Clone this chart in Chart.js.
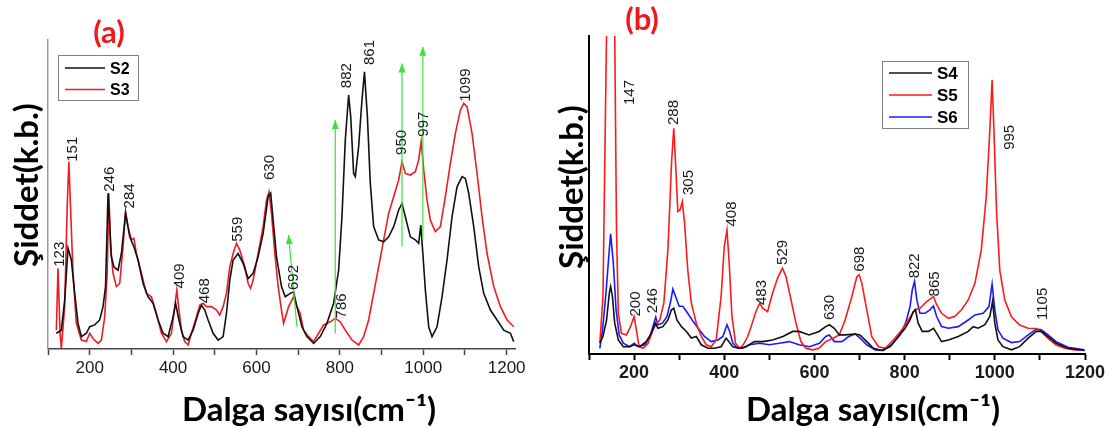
<!DOCTYPE html>
<html>
<head>
<meta charset="utf-8">
<script src="https://cdn.jsdelivr.net/npm/chart.js@4.4.1/dist/chart.umd.min.js"></script>
<style>
body{margin:0;background:#fff;width:1115px;height:428px;overflow:hidden;position:relative}
#boxA{position:absolute;left:0;top:0;width:545px;height:428px}
#boxB{position:absolute;left:545px;top:0;width:570px;height:428px}
</style>
</head>
<body>
<div id="boxA"><canvas id="chartA"></canvas></div>
<div id="boxB"><canvas id="chartB"></canvas></div>
<script>
// (a) S2 / S3
var s2X = [120,132,140,148,156,164,172,180,192,200,212,224,232,238,244,252,258,268,276,286,296,306,316,328,340,352,364,376,388,400,406,414,424,436,448,460,468,476,484,496,508,520,528,536,544,556,568,580,592,604,616,628,634,640,648,660,669,681,689,697,709,721,737,753,769,785,797,805,813,821,826,833,837,845,853,859,866,873,881,893,905,917,929,941,949,957,969,981,989,994,999,1005,1013,1021,1033,1045,1057,1069,1081,1093,1101,1109,1121,1133,1145,1161,1177,1193,1209,1217];
var s2Y = [5.1,6.1,15.8,32.6,28.8,18.0,8.3,4.0,5.1,7.2,7.8,9.4,13.7,20.2,50.4,29.9,26.6,25.5,30.9,43.9,36.3,33.1,28.8,21.2,16.9,14.8,9.4,5.1,4.0,10.4,14.8,9.4,4.0,2.9,6.1,11.5,14.2,12.6,9.4,5.1,2.9,4.0,11.5,22.3,28.8,30.9,27.7,22.8,24.5,29.9,37.4,49.3,50.4,41.7,29.9,20.2,16.9,18.0,18.5,13.7,7.2,4.0,1.8,4.0,8.3,14.8,25.5,42.8,67.6,82.2,75.2,56.8,55.8,65.5,80.6,89.7,75.2,53.6,39.6,35.3,34.7,36.3,39.6,45.0,47.1,42.8,36.3,35.3,34.2,40.1,30.9,19.1,7.2,4.0,7.2,16.9,28.8,42.8,52.5,55.8,55.2,50.4,39.6,26.6,18.0,12.6,9.4,6.1,5.1,2.4];
var s3X = [120,124,129,132,140,146,150,154,160,168,180,192,200,208,220,228,236,242,246,250,256,264,272,280,286,292,300,306,312,324,336,348,360,372,384,396,404,409,414,420,428,436,444,456,464,472,480,492,504,512,520,528,536,544,552,560,572,580,586,592,604,616,624,630,636,644,652,660,665,677,689,697,705,713,725,737,749,761,777,789,801,813,829,845,857,869,881,893,905,917,929,941,949,957,969,981,989,995,1002,1009,1017,1029,1041,1053,1065,1077,1089,1097,1105,1117,1129,1141,1153,1169,1185,1201,1217];
var s3Y = [6.1,26.1,5.1,0.2,13.7,46,60.6,46,24.5,8.3,2.9,2.4,5.1,3.4,1.8,2.9,10.4,24.5,50.4,33.1,24.5,20.2,21.2,33.1,44.4,39.6,35.3,35.8,30.9,24.5,18.0,16.9,11.5,5.1,2.4,5.1,13.7,19.1,12.6,6.1,2.4,1.3,5.1,10.4,14.2,14.8,13.7,13.7,12.6,11.0,13.7,18.0,26.6,30.9,34.2,32.0,26.6,21.2,19.6,22.3,30.9,39.6,48.2,50.9,43.9,30.9,20.2,12.6,8.3,13.7,16.9,13.7,11.5,6.1,4.0,2.4,5.1,7.8,8.8,9.9,8.8,6.1,2.9,1.3,4.0,9.4,18.0,26.6,35.3,43.9,49.3,54.7,60.6,56.8,56.3,57.4,61.2,67.1,56.8,48.2,41.7,38.0,39.6,49.3,60.1,69.8,77.3,79.5,78.4,69.8,56.8,42.8,30.9,20.2,13.7,9.4,7.2];
var peaksA = [[128,26.6,'123'],[160,60.6,'151'],[248,50.9,'246'],[296,45.5,'284'],[416,19.6,'409'],[476,14.8,'468'],[556,34.7,'559'],[632,54.7,'630'],[689,19.1,'692'],[805,9.9,'786'],[816,84.4,'882'],[872,91.9,'861'],[949,62.8,'950'],[1001,68.7,'997'],[1101,80.0,'1099']];
var arrowsA = [[697,7.2,677,36.9],[789,5.1,789,74.1],[949,33.1,949,92.4],[999,35.3,999,97.8]];

// (b) S4 / S5 / S6
var s4X = [124,131,139,145,148,152,157,165,176,190,200,212,227,238,247,253,264,275,283,288,295,305,316,327,338,349,364,378,393,404,410,419,434,448,467,485,507,530,552,566,588,610,625,633,644,655,668,690,701,716,731,749,768,786,801,812,819,824,830,839,853,864,871,882,897,919,941,952,963,978,989,995,1000,1007,1018,1037,1055,1074,1092,1103,1118,1136,1162,1199];
var s4Y = [3.4,5.5,10.7,19.1,21.2,18.0,9.7,4.4,2.3,2.3,2.9,2.3,3.9,6.5,9.7,8.1,8.6,10.7,13.9,14.4,10.7,8.6,7.1,5.0,5.5,2.9,1.8,1.8,2.3,5.0,3.9,2.3,1.8,2.3,3.9,3.9,4.4,5.5,7.1,7.1,6.0,7.1,8.6,9.2,8.1,6.0,6.0,6.3,6.0,3.9,1.8,1.1,2.3,5.5,8.1,10.7,13.3,13.9,9.7,7.1,7.1,8.1,6.5,3.9,4.4,5.5,7.1,8.6,8.1,9.2,11.8,16.5,9.7,4.4,2.3,1.3,2.3,5.0,7.1,7.1,5.5,3.4,1.8,1.1];
var s5X = [124,131,139,148,157,161,165,172,183,192,200,205,211,220,231,242,248,257,266,275,283,288,292,297,302,307,312,319,327,338,349,360,371,382,393,400,406,411,417,425,434,442,452,462,470,479,485,496,507,518,529,537,548,559,570,581,596,610,625,640,655,668,683,694,699,705,716,727,742,757,775,794,808,823,834,849,864,871,882,897,911,926,941,956,970,981,989,994,998,1004,1011,1022,1037,1055,1074,1092,1103,1118,1136,1155,1177,1199];
var s5Y = [3.4,18.1,102,160,102,39.0,12.8,6.5,6.0,8.6,11.8,7.6,2.3,1.8,3.4,7.6,9.2,10.7,16.0,32.7,60.0,71.0,60.0,44.8,45.3,47.9,41.1,26.4,16.0,9.7,5.5,2.9,2.3,4.4,18.1,33.8,39.0,28.5,11.8,3.4,1.8,2.9,5.5,9.7,13.3,16.0,14.4,13.3,19.1,23.8,27.0,24.3,17.0,9.7,3.9,1.8,1.3,1.8,3.9,4.9,6.0,10.7,18.1,24.3,24.9,22.3,13.9,5.5,2.3,1.8,4.4,7.6,10.7,13.9,14.4,16.5,18.1,15.5,12.8,11.2,11.8,13.9,17.0,22.3,32.7,49.5,70.5,86.2,70.5,44.3,26.4,17.0,11.7,9.1,8.1,8.0,7.0,4.9,2.8,1.8,1.3,1.2];
var s6X = [124,130,137,145,148,154,160,167,176,190,200,209,224,235,244,248,253,263,273,281,286,292,300,308,319,331,342,356,371,386,397,406,412,419,430,441,456,478,500,522,544,566,589,611,625,633,644,661,676,690,701,716,735,753,771,790,802,812,817,822,827,834,845,856,864,871,882,897,919,941,956,974,987,994,1000,1007,1018,1037,1055,1074,1092,1103,1118,1136,1162,1199];
var s6Y = [1.8,7.6,18.1,32.7,37.8,28.5,13.9,6.0,3.4,2.3,3.4,2.3,2.9,5.5,9.7,11.6,9.2,9.7,11.8,16.5,20.4,18.1,15.0,15.0,12.8,10.2,8.1,5.5,3.9,4.4,5.5,9.2,7.1,3.4,1.8,1.8,2.9,3.4,2.9,3.4,3.9,2.9,2.3,3.4,5.5,6.0,3.9,3.9,5.5,6.3,5.0,2.9,1.3,1.1,2.9,6.0,9.7,14.9,20.2,22.8,17.0,12.8,12.8,13.9,15.1,11.8,8.6,8.1,8.6,10.7,12.3,12.8,14.9,22.0,13.9,7.6,5.0,3.6,3.9,6.0,7.8,7.6,6.0,3.9,2.1,1.3];
var peaksB = [[190,78.3,'147'],[204,11.8,'200'],[241,12.8,'246'],[288,72,'288'],[322,50,'305'],[417,40.1,'408'],[484,15.4,'483'],[530,28,'529'],[634,10.7,'630'],[701,25.9,'698'],[822,23.8,'822'],[867,18.1,'865'],[1033,64.2,'995'],[1107,10.7,'1105']];

var yTitle = 'Şiddet(k.b.)';
var xTitle = 'Dalga sayısı(cm⁻¹)';

function pts(xs, ys) {
    var out = [];
    for (var i = 0; i < xs.length; i++) out.push({x: xs[i], y: ys[i]});
    return out;
}

function line(label, xs, ys, color) {
    return {label: label, data: pts(xs, ys), borderColor: color, backgroundColor: color,
            borderWidth: 1.6, pointRadius: 0, tension: 0, fill: false};
}

function decor(cfg) {
    return {
        id: 'decor',
        afterDraw: function (chart) {
            var ctx = chart.ctx, xs = chart.scales.x, ys = chart.scales.y;
            ctx.save();
            // arrows
            ctx.strokeStyle = '#3ee03e';
            ctx.fillStyle = '#3ee03e';
            ctx.lineWidth = 1.2;
            (cfg.arrows || []).forEach(function (a) {
                var x0 = xs.getPixelForValue(a[0]), y0 = ys.getPixelForValue(a[1]);
                var x1 = xs.getPixelForValue(a[2]), y1 = ys.getPixelForValue(a[3]);
                var ang = Math.atan2(y1 - y0, x1 - x0);
                ctx.beginPath(); ctx.moveTo(x0, y0); ctx.lineTo(x1, y1); ctx.stroke();
                ctx.beginPath();
                ctx.moveTo(x1, y1);
                ctx.lineTo(x1 - 9 * Math.cos(ang) + 3.5 * Math.sin(ang), y1 - 9 * Math.sin(ang) - 3.5 * Math.cos(ang));
                ctx.lineTo(x1 - 9 * Math.cos(ang) - 3.5 * Math.sin(ang), y1 - 9 * Math.sin(ang) + 3.5 * Math.cos(ang));
                ctx.closePath(); ctx.fill();
            });
            // peak labels
            ctx.fillStyle = '#1a1a1a';
            ctx.font = '15px "Liberation Sans", Arial, sans-serif';
            ctx.textAlign = 'left';
            ctx.textBaseline = 'middle';
            cfg.peaks.forEach(function (p) {
                ctx.save();
                ctx.translate(xs.getPixelForValue(p[0]), ys.getPixelForValue(p[1]));
                ctx.rotate(-Math.PI / 2);
                ctx.fillText(p[2], 0, 0);
                ctx.restore();
            });
            // legend
            var lg = cfg.legend;
            ctx.strokeStyle = '#808080';
            ctx.lineWidth = 1;
            ctx.strokeRect(lg.x + 0.5, lg.y + 0.5, lg.w, lg.h);
            ctx.font = 'bold ' + lg.size + 'px "Liberation Sans", Arial, sans-serif';
            ctx.textBaseline = 'alphabetic';
            chart.data.datasets.forEach(function (ds, i) {
                var ly = lg.y + lg.first + i * lg.step;
                ctx.strokeStyle = ds.borderColor;
                ctx.lineWidth = 1.6;
                ctx.beginPath(); ctx.moveTo(lg.x + 7, ly); ctx.lineTo(lg.x + 7 + lg.len, ly); ctx.stroke();
                ctx.fillStyle = '#000';
                ctx.fillText(ds.label, lg.x + 12 + lg.len, ly + lg.size * 0.36);
            });
            // axis titles
            ctx.fillStyle = '#000';
            ctx.font = 'bold 33px Lato, "Open Sans", sans-serif';
            ctx.textAlign = 'center';
            ctx.textBaseline = 'alphabetic';
            ctx.fillText(xTitle, cfg.xTitleX, 421);
            ctx.save();
            ctx.translate(38, cfg.yTitleY);
            ctx.rotate(-Math.PI / 2);
            ctx.fillText(yTitle, 0, 0);
            ctx.restore();
            // panel letter
            ctx.fillStyle = '#f01818';
            ctx.font = 'bold 31px Lato, "Open Sans", sans-serif';
            ctx.fillText(cfg.letter, cfg.letterX, cfg.letterY);
            ctx.restore();
        }
    };
}

function xAxis(min, max, h, tickFont, axisColor, axisWidth, pad) {
    return {
        type: 'linear', min: min, max: max,
        afterBuildTicks: function (ax) {
            ax.ticks = ax.ticks.filter(function (t) { return t.value % 100 === 0; });
        },
        ticks: {stepSize: 100, includeBounds: false, autoSkip: false, maxRotation: 0, color: '#1a1a1a', font: tickFont, padding: pad,
            callback: function (v) { return v % 200 === 0 ? v : ''; }},
        grid: {display: true, drawOnChartArea: false, drawTicks: true, tickLength: 6, color: axisColor, tickWidth: axisWidth},
        border: {display: true, color: axisColor, width: axisWidth},
        afterFit: function (s) { s.height = h; }
    };
}

function yAxis(w, color, width) {
    return {
        min: 0, max: 100,
        ticks: {display: false},
        grid: {display: false},
        border: {display: true, color: color, width: width},
        afterFit: function (s) { s.width = w; }
    };
}

new Chart(document.getElementById('chartA'), {
    type: 'line',
    data: {datasets: [line('S2', s2X, s2Y, '#111111'), line('S3', s3X, s3Y, '#ee1c24')]},
    options: {
        responsive: true, maintainAspectRatio: false, animation: false,
        layout: {padding: {left: 0, top: 40, right: 30, bottom: 0}},
        plugins: {legend: {display: false}, tooltip: {enabled: false}},
        scales: {
            x: xAxis(100, 1220, 79, {family: 'Liberation Sans', size: 17}, '#444444', 1.5, 3),
            y: yAxis(48, '#999999', 1.5)
        }
    },
    plugins: [decor({peaks: peaksA, arrows: arrowsA, xTitleX: 309, yTitleY: 185, letter: '(a)', letterX: 109, letterY: 43,
        legend: {x: 58, y: 55, w: 80, h: 45, first: 13, step: 21.5, len: 40, size: 16}})]
});

new Chart(document.getElementById('chartB'), {
    type: 'line',
    data: {datasets: [line('S4', s4X, s4Y, '#111111'), line('S5', s5X, s5Y, '#ff1a1a'), line('S6', s6X, s6Y, '#1a1aff')]},
    options: {
        responsive: true, maintainAspectRatio: false, animation: false,
        layout: {padding: {left: 0, top: 36, right: 30, bottom: 0}},
        plugins: {legend: {display: false}, tooltip: {enabled: false}},
        scales: {
            x: xAxis(100, 1200, 74, {family: 'Liberation Sans', size: 18, weight: 'bold'}, '#000000', 2, 2),
            y: yAxis(44, '#000000', 2)
        }
    },
    plugins: [decor({peaks: peaksB, xTitleX: 328, yTitleY: 187, letter: '(b)', letterX: 97, letterY: 30,
        legend: {x: 337, y: 61, w: 86, h: 67, first: 12, step: 22, len: 43, size: 17}})]
});
</script>
</body>
</html>
